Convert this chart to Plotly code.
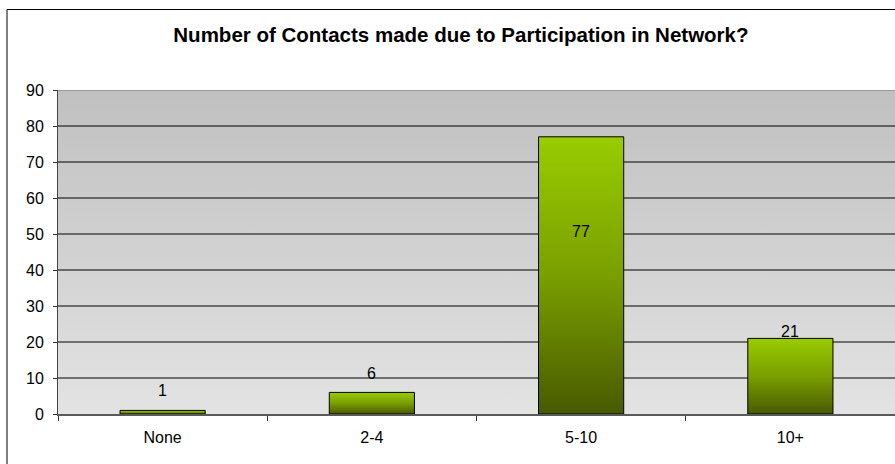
import plotly.graph_objects as go

categories = ["None", "2-4", "5-10", "10+"]
values = [1, 6, 77, 21]
y_ticks = [0, 10, 20, 30, 40, 50, 60, 70, 80, 90]
title_text = "Number of Contacts made due to Participation in Network?"

# style
label_shift = [20, 19, -95, 7]
bar_width = 0.407
FONT = "Liberation Sans, Arial, sans-serif"

ymin, ymax = y_ticks[0], y_ticks[-1]
xmin, xmax = -0.5, len(categories) - 0.5

fig = go.Figure()

# plot-area background gradient
fig.add_trace(go.Scatter(
    x=[xmin, xmax, xmax, xmin, xmin], y=[ymin, ymin, ymax, ymax, ymin],
    fill="toself", mode="lines", line=dict(width=0),
    fillgradient=dict(type="vertical", colorscale=[[0, "#e3e3e3"], [1, "#c0c0c0"]]),
    hoverinfo="skip", showlegend=False))

# gridlines
gx, gy = [], []
for t in y_ticks[1:-1]:
    gx += [xmin, xmax, None]
    gy += [t, t, None]
fig.add_trace(go.Scatter(x=gx, y=gy, mode="lines", line=dict(color="black", width=1),
                         hoverinfo="skip", showlegend=False))
fig.add_trace(go.Scatter(x=[xmin, xmax], y=[ymax, ymax], mode="lines",
                         line=dict(color="#8a8a8a", width=1.5),
                         hoverinfo="skip", showlegend=False))

# bars with vertical gradient
for i, v in enumerate(values):
    x0, x1 = i - bar_width / 2, i + bar_width / 2
    fig.add_trace(go.Scatter(
        x=[x0, x1, x1, x0, x0], y=[0, 0, v, v, 0],
        fill="toself", mode="lines", line=dict(color="black", width=1),
        fillgradient=dict(type="vertical", start=0, stop=v,
                          colorscale=[[0, "#485a00"], [0.5, "#7a9f00"], [1, "#99cc00"]]),
        hoverinfo="skip", showlegend=False))
    fig.add_annotation(x=i, y=v, text=str(v), showarrow=False, yanchor="middle",
                       yshift=label_shift[i], font=dict(family=FONT, size=16, color="black"))

fig.update_layout(
    width=895, height=464,
    margin=dict(l=58, r=0, t=90, b=50, pad=0),
    paper_bgcolor="white", plot_bgcolor="rgba(0,0,0,0)",
    showlegend=False,
    font=dict(family=FONT, size=16, color="black"),
    title=dict(text="<b>" + title_text + "</b>", x=0.515, xanchor="center",
               y=1 - 35 / 464, yanchor="middle",
               font=dict(family=FONT, size=20.5, color="black")),
)
fig.update_xaxes(
    range=[xmin, xmax], tickvals=list(range(len(categories))), ticktext=categories,
    ticks="", showgrid=False, zeroline=False, fixedrange=True,
    showline=True, linecolor="#5a5a5a", linewidth=2,
    ticklabelstandoff=8,
    minor=dict(tickvals=[k + 0.5 for k in range(-1, len(categories) - 1)],
               ticks="outside", ticklen=5, tickcolor="#333", tickwidth=1),
)
fig.update_yaxes(
    range=[ymin, ymax], tickvals=y_ticks, ticks="outside", ticklen=4,
    tickcolor="#333", showgrid=False, zeroline=False, showline=True,
    linecolor="#444", linewidth=1, ticklabelstandoff=6, fixedrange=True,
)

# outer chart border (left and top edges visible)
xl = (7 - 58) / 837
xr = (1000 - 58) / 837
yt = (414 - 9.5) / 324
yb = (414 - 600) / 324
fig.add_shape(type="path", xref="paper", yref="paper",
              path=f"M {xl},{yb} L {xl},{yt} L {xr},{yt}",
              line=dict(color="black", width=1), layer="above")

fig.write_html("out.html", config={"displayModeBar": False})
